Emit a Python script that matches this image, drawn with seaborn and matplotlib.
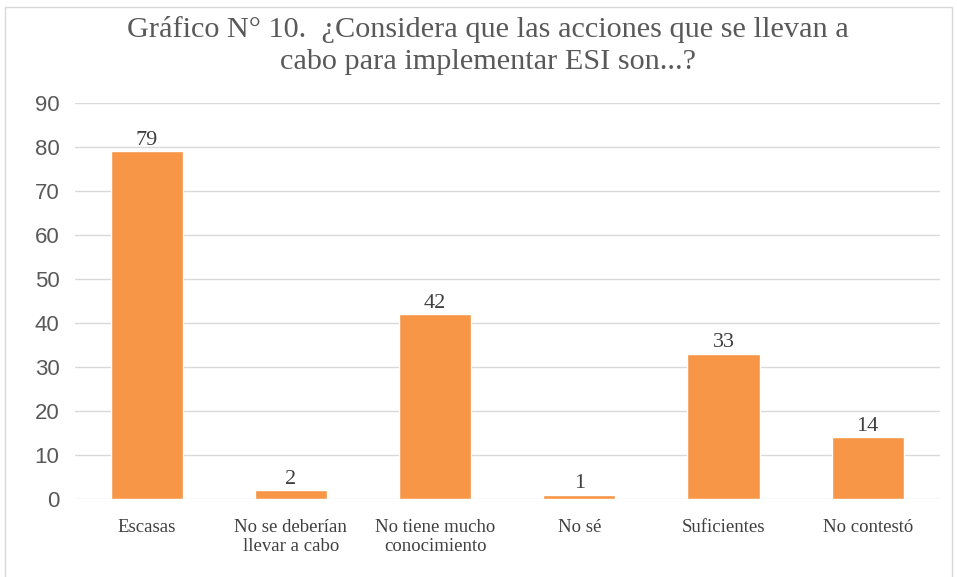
import matplotlib
matplotlib.use("Agg")
from matplotlib import pyplot as plt
from matplotlib.patches import Rectangle
import seaborn as sns
import pandas as pd

categorias = ["Escasas", "No se deberían\nllevar a cabo", "No tiene mucho\nconocimiento",
              "No sé", "Suficientes", "No contestó"]
valores = [79, 2, 42, 1, 33, 14]
titulo = "Gráfico N° 10.  ¿Considera que las acciones que se llevan a\ncabo para implementar ESI son...?"

sns.set_theme(style="white")
plt.rcParams['font.family'] = ['Liberation Serif', 'DejaVu Serif']

d = pd.DataFrame({'cat': categorias, 'n': valores})

fig = plt.figure(figsize=(9.57, 5.77), dpi=100)
ax = fig.add_axes([0.078, 0.135, 0.904, 0.687])

sns.barplot(data=d, x='cat', y='n', color='#F79646', saturation=1, width=0.5, ax=ax)

ax.set_ylim(0, 90)
ax.set_yticks(range(0, 91, 10))
ax.grid(axis='y', color='#D9D9D9', linewidth=1)
ax.set_axisbelow(True)
for s in ax.spines.values():
    s.set_visible(False)
ax.set_xlabel('')
ax.set_ylabel('')
ax.tick_params(axis='y', length=0, pad=11, labelsize=16, labelcolor='#595959')
ax.tick_params(axis='x', length=0, pad=14, labelsize=13.5, labelcolor='#404040')
for t in ax.get_yticklabels():
    t.set_family(['Liberation Sans', 'DejaVu Sans'])

for c in ax.containers:
    ax.bar_label(c, fontsize=16, color='#404040', padding=1)

fig.text(0.51, 0.921, titulo, ha='center', va='center', fontsize=21.8,
         color='#595959', linespacing=1.3)

fig.patches.append(Rectangle((0.005, -0.01), 0.99, 0.998, transform=fig.transFigure,
                             fill=False, edgecolor='#D9D9D9', linewidth=1))

plt.savefig('out.png', dpi=100)
